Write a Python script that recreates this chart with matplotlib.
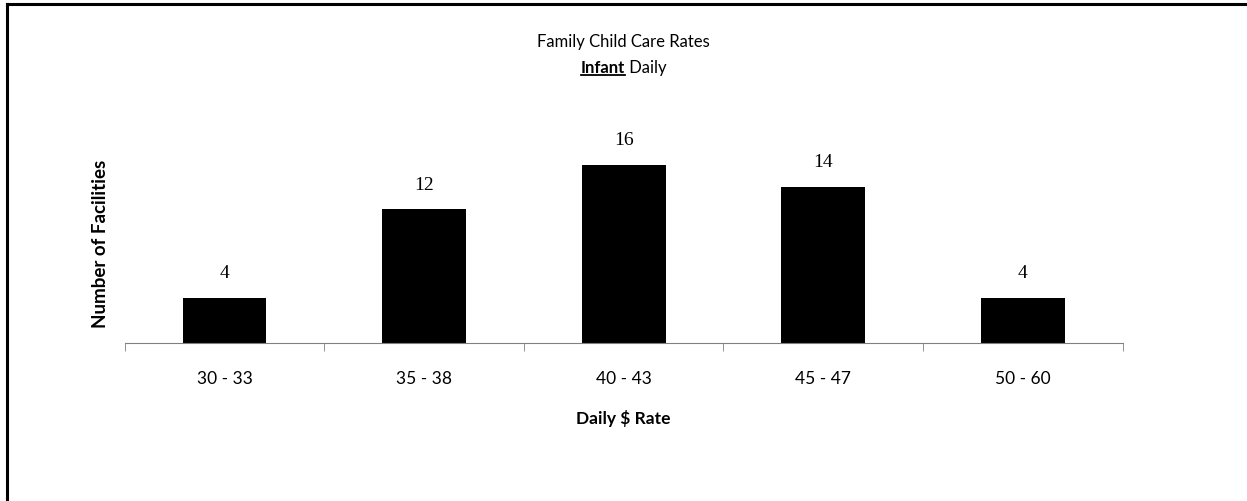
import matplotlib.pyplot as plt
from matplotlib.lines import Line2D

categories = ['30 - 33', '35 - 38', '40 - 43', '45 - 47', '50 - 60']
facilities = [4, 12, 16, 14, 4]

SANS = 'Lato'
SERIF = 'Liberation Serif'

fig = plt.figure(figsize=(12.47, 5.02), dpi=100)
ax = fig.add_axes([0.1, 0.3157, 0.8003, 0.398])

x = range(len(categories))
ax.bar(x, facilities, width=0.42, color='black')
for i, v in zip(x, facilities):
    ax.annotate(str(v), (i, v), xytext=(0, 12), textcoords='offset points',
                ha='center', va='bottom', family=SERIF, fontsize=14)

ax.set_xlim(-0.5, len(categories) - 0.5)
ax.set_ylim(0, 18)
for s in ['top', 'right', 'left']:
    ax.spines[s].set_visible(False)
ax.spines['bottom'].set_color('#808080')
ax.set_yticks([])
ax.set_xticks(list(x))
ax.set_xticklabels(categories, family=SANS, fontsize=12.5)
ax.tick_params(axis='x', which='major', length=0, pad=20)
ax.set_xticks([i - 0.5 for i in range(len(categories) + 1)], minor=True)
ax.tick_params(axis='x', which='minor', length=6, direction='out', color='#808080')

fig.text(0.5, 0.916, 'Family Child Care Rates', ha='center', va='center',
         family=SANS, fontsize=12)

# second title line: bold underlined "Infant" followed by " Daily"
fig.canvas.draw()
r = fig.canvas.get_renderer()
t1 = fig.text(0, 0.864, 'Infant', ha='left', va='center', family=SANS,
              fontsize=12, fontweight='bold')
t2 = fig.text(0, 0.864, ' Daily', ha='left', va='center', family=SANS, fontsize=12)
w1 = t1.get_window_extent(r).width / fig.bbox.width
w2 = t2.get_window_extent(r).width / fig.bbox.width
x0 = 0.5 - (w1 + w2) / 2
t1.set_x(x0)
t2.set_x(x0 + w1)
fig.add_artist(Line2D([x0, x0 + w1], [0.848, 0.848], color='black', lw=1.3,
                      transform=fig.transFigure))

fig.text(0.0802, 0.515, 'Number of Facilities', rotation=90, ha='center',
         va='center', family=SANS, fontsize=13.5, fontweight='bold')
fig.text(0.5, 0.167, 'Daily $ Rate', ha='center', va='center', family=SANS,
         fontsize=12.5, fontweight='bold')

# chart frame (only top and left edges fall inside the picture)
fig.add_artist(Line2D([0.0058, 1.0], [0.99, 0.99], color='black', lw=2.2,
                      transform=fig.transFigure))
fig.add_artist(Line2D([0.0058, 0.0058], [0.0, 0.99], color='black', lw=2.2,
                      transform=fig.transFigure))

fig.savefig('out.png', dpi=100)
